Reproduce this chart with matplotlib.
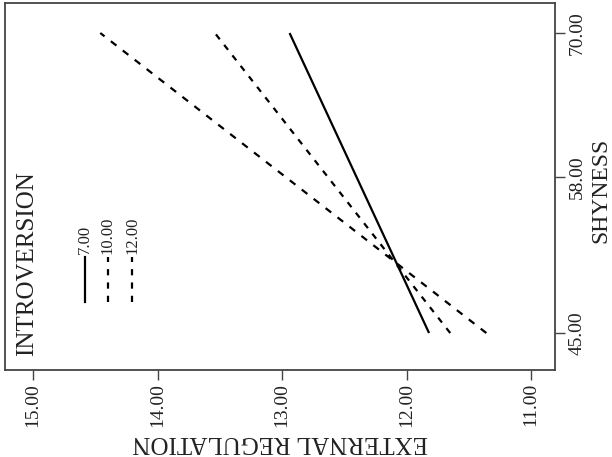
import matplotlib
matplotlib.use('Agg')
import matplotlib.pyplot as plt

plt.rcParams['font.family'] = ['Liberation Serif', 'DejaVu Serif']

# shyness at the two ends of each simple slope
shyness = [45, 70]
# external regulation predicted for each introversion level
ext_7 = [11.82, 12.94]
ext_10 = [11.65, 13.54]
ext_12 = [11.36, 14.46]

levels = ['7.00', '10.00', '12.00']
x_ticks = [15, 14, 13, 12, 11]
x_labels = ['15.00', '14.00', '13.00', '12.00', '11.00']
y_ticks = [45, 58, 70]
y_labels = ['45.00', '58.00', '70.00']

ink = '#222222'
fig = plt.figure(figsize=(6.12, 4.57), dpi=100)
ax = fig.add_axes([0.0082, 0.1904, 0.899, 0.803])

# chart is drawn turned on its side: shyness runs up, regulation runs right-to-left
ax.plot(ext_7, shyness, color='black', lw=1.6, solid_capstyle='butt')
ax.plot(ext_10, shyness, color='black', lw=1.6, dashes=(2.8, 3.2))
ax.plot(ext_12, shyness, color='black', lw=1.6, dashes=(3.2, 3.6))

ax.set_xlim(15.225, 10.807)
ax.set_ylim(41.92, 72.5)

ax.set_xticks(x_ticks)
ax.set_xticklabels(x_labels, rotation=90, fontsize=14, color=ink)
ax.yaxis.tick_right()
ax.set_yticks(y_ticks)
ax.set_yticklabels(y_labels, rotation=90, va='center', fontsize=14, color=ink)
ax.tick_params(axis='both', length=7.5, width=1.0, color='#444444', pad=2)

ax.set_xlabel('EXTERNAL REGULATION', rotation=180, fontsize=18, color=ink, labelpad=3)

for s in ax.spines.values():
    s.set_linewidth(1.3)
    s.set_color('#444444')

# axis title on the right, kept inside the canvas
fig.text(0.990, 0.584, 'SHYNESS', rotation=90, rotation_mode='anchor',
         ha='center', va='baseline', fontsize=17, color=ink)

# hand-made legend, rotated like the rest
ax.text(0.04, 0.29, 'INTROVERSION', rotation=90, fontsize=18, color=ink,
        ha='center', va='center', transform=ax.transAxes)
styles = [dict(), dict(dashes=(2.8, 3.2)), dict(dashes=(2.8, 3.2))]
xs = [0.1455, 0.187, 0.231]
for lab, st, xp in zip(levels, styles, xs):
    ax.plot([xp, xp], [0.185, 0.308], color='black', lw=1.6,
            transform=ax.transAxes, **st)
    ax.text(xp, 0.315, lab, rotation=90, fontsize=12, color=ink,
            ha='center', va='bottom', transform=ax.transAxes)

fig.savefig('out.png', dpi=100)
